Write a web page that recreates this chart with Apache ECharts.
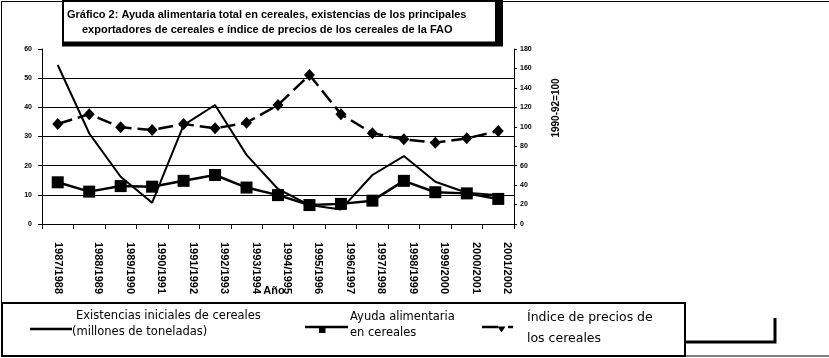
<!DOCTYPE html>
<html>
<head>
<meta charset="utf-8">
<script src="https://cdn.jsdelivr.net/npm/echarts@6/dist/echarts.min.js"></script>
<style>html,body{margin:0;padding:0;background:#fff}#c{width:829px;height:358px}</style>
</head>
<body>
<div id="c"></div>
<script>
var categories = ['1987/1988','1988/1989','1989/1990','1990/1991','1991/1992','1992/1993','1993/1994','1994/1995','1995/1996','1996/1997','1997/1998','1998/1999','1999/2000','2000/2001','2001/2002'];
var existencias = [54.5, 31.1, 16.2, 7.3, 33.9, 40.8, 23.7, 12.0, 6.5, 5.0, 16.8, 23.3, 14.5, 10.7, 9.9];
var ayuda = [14.3, 11.1, 13.0, 12.8, 14.8, 16.8, 12.5, 9.9, 6.5, 6.9, 8.0, 14.8, 10.9, 10.5, 8.6];
var indice = [102.9, 113.0, 99.4, 96.7, 102.9, 98.4, 104.2, 122.4, 153.3, 113.0, 93.3, 87.1, 83.7, 88.1, 95.7];

var FONT = '"Liberation Sans", Arial, sans-serif';
var LFONT = '"DejaVu Sans", sans-serif';
var chart = echarts.init(document.getElementById('c'));
function txt(t, x, y, opt) {
  opt = opt || {};
  return {type:'text', z:100, x:x, y:y, rotation: opt.rot || 0,
    style:{text:t, fill:'#000', font: opt.font || ('11.5px ' + LFONT), align: opt.align || 'left', verticalAlign:'middle'}};
}
chart.setOption({
  animation:false,
  backgroundColor:'#fff',
  grid:{left:42, right:315, top:49, bottom:134, containLabel:false},
  xAxis:{
    type:'category', data:categories, boundaryGap:true,
    axisLine:{lineStyle:{color:'#000', width:1}},
    axisTick:{show:true, length:5, lineStyle:{color:'#000'}},
    axisLabel:{rotate:-90, margin:18, fontFamily:FONT, fontWeight:'bold', fontSize:11, color:'#000', interval:0,
      lineHeight:18, verticalAlign:'bottom',
      formatter:function(v, i){ return i === 0 ? '{f|' + v + '}' : v; },
      rich:{f:{fontFamily:FONT, fontWeight:'bold', fontSize:11, color:'#000', lineHeight:1}}}
  },
  yAxis:[{
    type:'value', min:0, max:60, interval:10,
    axisLine:{show:true, lineStyle:{color:'#000'}},
    axisTick:{show:true, length:4, lineStyle:{color:'#000'}},
    axisLabel:{margin:10, fontFamily:FONT, fontWeight:'bold', fontSize:7, color:'#000'},
    splitLine:{show:true, lineStyle:{color:['#000','#000','#000','#000','#000','#000','rgba(0,0,0,0)'], width:1}}
  },{
    type:'value', min:0, max:180, interval:20, position:'right',
    axisLine:{show:true, lineStyle:{color:'#000'}},
    axisTick:{show:true, length:3, lineStyle:{color:'#000'}},
    axisLabel:{margin:6, fontFamily:FONT, fontWeight:'bold', fontSize:7, color:'#000'},
    splitLine:{show:false}
  }],
  series:[{
    name:'Índice de precios de los cereales', type:'line', yAxisIndex:1, data:indice,
    symbol:'diamond', symbolSize:[11,12], itemStyle:{color:'#000'},
    lineStyle:{color:'#000', width:2.5, type:[15,6]}, z:2
  },{
    name:'Existencias iniciales de cereales (millones de toneladas)', type:'line', yAxisIndex:0, data:existencias,
    symbol:'none', lineStyle:{color:'#000', width:2}, z:3
  },{
    name:'Ayuda alimentaria en cereales', type:'line', yAxisIndex:0, data:ayuda,
    symbol:'rect', symbolSize:12, itemStyle:{color:'#000'},
    lineStyle:{color:'#000', width:2.5}, z:4
  }],
  graphic:[
    {type:'rect', z:1, shape:{x:1.5, y:1.5, width:830, height:354.5}, style:{fill:'none', stroke:'#000', lineWidth:1}},
    {type:'rect', z:90, shape:{x:62, y:0, width:441, height:46.5}, style:{fill:'#000'}},
    {type:'rect', z:91, shape:{x:64, y:2, width:431, height:39.5}, style:{fill:'#fff'}},
    txt('Gráfico 2: Ayuda alimentaria total en cereales, existencias de los principales', 67, 15, {font:'bold 11px ' + FONT}),
    txt('exportadores de cereales e índice de precios de los cereales de la FAO', 82, 30, {font:'bold 11px ' + FONT}),
    txt('1990-92=100', 556, 108, {font:'bold 10px ' + FONT, align:'center', rot:Math.PI/2}),
    txt('Año', 274, 291, {font:'bold 11px ' + FONT, align:'center'}),
    {type:'rect', z:90, shape:{x:2, y:303, width:683, height:53}, style:{fill:'#fff', stroke:'#000', lineWidth:2}},
    {type:'polyline', z:90, shape:{points:[[685,342],[775,342],[775,318]]}, style:{fill:'none', stroke:'#000', lineWidth:3}},
    {type:'line', z:95, shape:{x1:30, y1:329, x2:72, y2:329}, style:{stroke:'#000', lineWidth:2.5}},
    txt('Existencias iniciales de cereales', 76, 316),
    txt('(millones de toneladas)', 72, 332),
    {type:'line', z:95, shape:{x1:305, y1:327, x2:348, y2:327}, style:{stroke:'#000', lineWidth:2.5}},
    {type:'rect', z:95, shape:{x:319, y:327, width:6.5, height:6}, style:{fill:'#000'}},
    txt('Ayuda alimentaria', 350, 317),
    txt('en cereales', 350, 333),
    {type:'line', z:95, shape:{x1:482, y1:327, x2:498, y2:327}, style:{stroke:'#000', lineWidth:2.5}},
    {type:'line', z:95, shape:{x1:508, y1:327, x2:513, y2:327}, style:{stroke:'#000', lineWidth:2.5}},
    {type:'polygon', z:95, shape:{points:[[497.5,326.5],[505.5,326.5],[501.5,332.5]]}, style:{fill:'#000'}},
    txt('Índice de precios de', 527, 318, {font:'12.5px ' + LFONT}),
    txt('los cereales', 527, 339, {font:'12.5px ' + LFONT})
  ]
});
</script>
</body>
</html>
